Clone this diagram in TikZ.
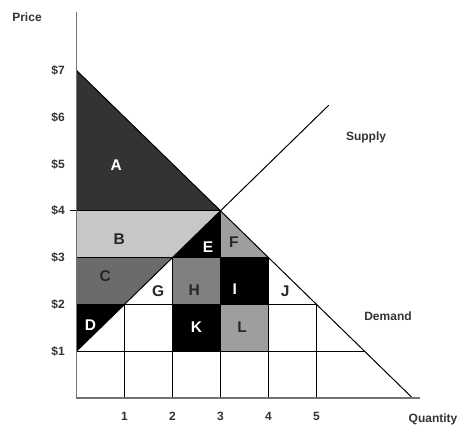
\documentclass[tikz,border=0pt]{standalone}
\usepackage{fontspec}
\setmainfont{Liberation Sans}
\begin{document}
\begin{tikzpicture}[x=1pt,y=1pt,
  ln/.style={black,line width=1pt,line cap=round},
  axis/.style={draw=black!55,line width=1.6pt},
  ax/.style={font=\fontsize{12}{12}\selectfont\bfseries,text=black!80,inner sep=1pt},
  lt/.style={font=\fontsize{15.5}{16}\selectfont\bfseries,text=black!85},
  lw/.style={font=\fontsize{15.5}{16}\selectfont\bfseries,text=white}]
\useasboundingbox (0,0) rectangle (463,425);
\begin{scope}[shift={(76.5pt,27pt)},x=48pt,y=46.8pt]
  % key points
  \coordinate (O) at (0,0);
  \coordinate (Ytop) at (0,8.25);
  \coordinate (Xend) at (7.16,0);
  \coordinate (P7) at (0,7);
  \coordinate (P4) at (0,4);
  \coordinate (P3) at (0,3);
  \coordinate (P2) at (0,2);
  \coordinate (P1) at (0,1);
  \coordinate (T4) at (-0.13,4);
  \coordinate (EQ) at (3,4);
  \coordinate (S3) at (2,3);
  \coordinate (S2) at (1,2);
  \coordinate (D3) at (4,3);
  \coordinate (D2) at (5,2);
  \coordinate (D1) at (6,1);
  \coordinate (Dend) at (7,0);
  \coordinate (Send) at (5.25,6.25);
  \coordinate (Q1) at (1,0);
  \coordinate (Q2) at (2,0);
  \coordinate (Q3) at (3,0);
  \coordinate (Q4) at (4,0);
  \coordinate (Q5) at (5,0);
  \coordinate (C33) at (3,3);
  \coordinate (C32) at (3,2);
  \coordinate (C22) at (2,2);
  \coordinate (C42) at (4,2);
  \coordinate (C31) at (3,1);
  \coordinate (C21) at (2,1);
  \coordinate (C41) at (4,1);
  % fills
  \fill[black!80] (P7) -- (EQ) -- (P4) -- cycle;
  \fill[black!22] (P4) -- (EQ) -- (S3) -- (P3) -- cycle;
  \fill[black!58] (P3) -- (S3) -- (S2) -- (P2) -- cycle;
  \fill[black] (P2) -- (S2) -- (P1) -- cycle;
  \fill[black] (EQ) -- (C33) -- (S3) -- cycle;
  \fill[black!38] (EQ) -- (D3) -- (C33) -- cycle;
  \fill[black!50] (S3) rectangle (C32);
  \fill[black] (C33) rectangle (C42);
  \fill[black] (C22) rectangle (C31);
  \fill[black!38] (C32) rectangle (C41);
  % grid
  \draw[ln] (Q1) -- (S2);
  \draw[ln] (Q2) -- (S3);
  \draw[ln] (Q3) -- (EQ);
  \draw[ln] (Q4) -- (D3);
  \draw[ln] (Q5) -- (D2);
  \draw[ln] (P1) -- (D1);
  \draw[ln] (P2) -- (D2);
  \draw[ln] (P3) -- (D3);
  \draw[ln] (T4) -- (EQ);
  % curves
  \draw[ln] (P7) -- (Dend);
  \draw[ln] (P1) -- (Send);
  % axes
  \draw[axis] (Ytop) -- (O) -- (Xend);
  % area labels
  \node[lw] at (0.83,4.98) {A};
  \node[lt] at (0.89,3.4) {B};
  \node[lt] at (0.6,2.6) {C};
  \node[lw] at (0.29,1.55) {D};
  \node[lw] at (2.74,3.22) {E};
  \node[lt] at (3.28,3.32) {F};
  \node[lt] at (1.7,2.28) {G};
  \node[lt] at (2.45,2.3) {H};
  \node[lw] at (3.3,2.33) {I};
  \node[lt] at (4.35,2.28) {J};
  \node[lw] at (2.5,1.52) {K};
  \node[lt] at (3.45,1.52) {L};
  % tick labels
  \foreach \p in {1,...,7} {\node[ax,anchor=east] (pl\p) at (-0.22,\p) {\$\p};}
  \foreach \q in {1,...,5} {\node[ax] (ql\q) at (\q,-0.4) {\q};}
\end{scope}
\node[ax] (price) at (27,408) {Price};
\node[ax] (qty) at (433,6) {Quantity};
\node[ax] (supply) at (366,288) {Supply};
\node[ax] (demand) at (388,109) {Demand};
\end{tikzpicture}
\end{document}
